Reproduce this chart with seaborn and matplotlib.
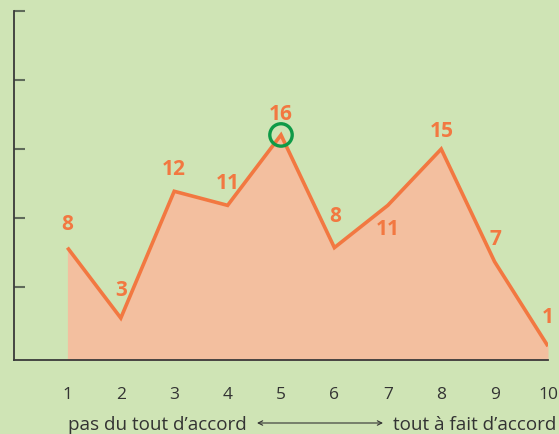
import matplotlib
matplotlib.use("Agg")
import matplotlib.pyplot as plt
import seaborn as sns
import pandas as pd
import numpy as np

# ---- data ----
scores = [1, 2, 3, 4, 5, 6, 7, 8, 9, 10]
counts = [8, 3, 12, 11, 16, 8, 11, 15, 7, 1]
x_tick_labels = ["1", "2", "3", "4", "5", "6", "7", "8", "9", "10"]
y_ticks = [5.2, 10.1, 15.0, 19.9, 24.8]
highlight_score = 5
left_label = "pas du tout d\u2019accord"
right_label = "tout \u00e0 fait d\u2019accord"

# label offsets in pixels (style only)
label_offsets = [(0, 23), (0, 28), (0, 22), (0, 22), (0, 20),
                 (1, 31), (0, -24), (1, 18), (1, 22), (0, 29)]

BG = "#cfe4b5"
LINE = "#f27841"
FILL = "#f3bf9f"
GREEN = "#0e9a47"
DARK = "#3a3a3a"

sns.set_style("white")
plt.rcParams["font.family"] = ["Open Sans", "DejaVu Sans"]

df = pd.DataFrame({"score": scores, "count": counts})

W, H = 559, 434
fig = plt.figure(figsize=(W / 100, H / 100), dpi=100, facecolor=BG)
ax = fig.add_axes([14 / W, 1 - 360.3 / H, (548 - 14) / W, (360.3 - 11) / H])
ax.set_facecolor(BG)

ax.fill_between(df["score"], 0, df["count"], color=FILL, linewidth=0, zorder=1)
sns.lineplot(data=df, x="score", y="count", ax=ax, color=LINE, linewidth=2.6,
             zorder=3, solid_joinstyle="miter", solid_capstyle="butt")

# highlight circle
hv = counts[scores.index(highlight_score)]
ax.scatter([highlight_score], [hv], s=260, facecolors="none", edgecolors=GREEN,
           linewidths=2.4, zorder=4)

for s, c, (dx, dy) in zip(scores, counts, label_offsets):
    ax.annotate(str(c), (s, c), xytext=(dx, dy), textcoords="offset pixels",
                ha="center", va="center", fontsize=15, fontweight="bold",
                color=LINE, zorder=5, annotation_clip=False)

ax.set_xlim(0, 10)
ax.set_ylim(0, 24.8)
ax.set_xticks(scores)
ax.set_xticklabels(x_tick_labels)
ax.set_yticks(y_ticks)
ax.set_yticklabels([])
ax.set_xlabel("")
ax.set_ylabel("")

for side in ["top", "right"]:
    ax.spines[side].set_visible(False)
for side in ["left", "bottom"]:
    ax.spines[side].set_color(DARK)
    ax.spines[side].set_linewidth(1.3)

ax.tick_params(axis="x", direction="inout", length=14.5, width=1.1, color=DARK,
               labelsize=12.5, labelcolor="#333333", pad=12)
ax.tick_params(axis="y", direction="in", length=8, width=1.5, color="#5f6a5a",
               left=True)

# bottom caption with double arrow
fig.text(247 / W, 1 - 425 / H, left_label, ha="right", va="center",
         fontsize=13.6, color="#333333")
fig.text(393 / W, 1 - 425 / H, right_label, ha="left", va="center",
         fontsize=13.6, color="#333333")
ax.annotate("", xy=(383 / W, 1 - 423 / H), xytext=(257 / W, 1 - 423 / H),
            xycoords="figure fraction", textcoords="figure fraction",
            arrowprops=dict(arrowstyle="<->", color="#333333", lw=0.8,
                            shrinkA=0, shrinkB=0, mutation_scale=8),
            annotation_clip=False)

fig.savefig("out.png", dpi=100, facecolor=BG)
